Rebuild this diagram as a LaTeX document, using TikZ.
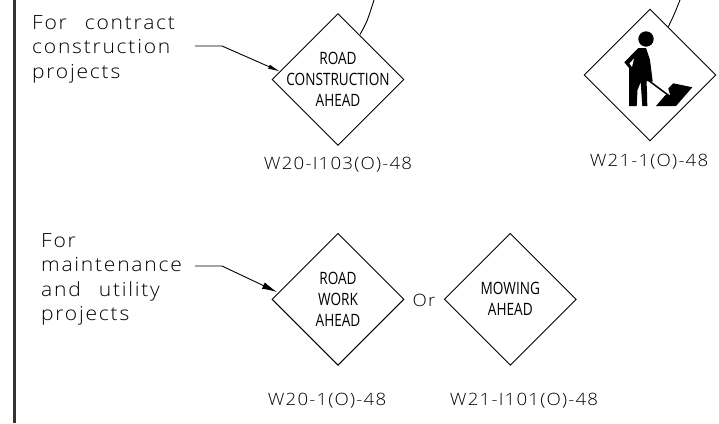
\documentclass[tikz,border=0pt]{standalone}
\usepackage{fontspec}
\setmainfont{Open Sans Light}
\newfontfamily\signfont[FakeStretch=0.8]{Open Sans}
\newfontfamily\notefont[FakeStretch=1.08,LetterSpace=9,WordSpace=2.5]{Open Sans Light}
\newfontfamily\codefont[FakeStretch=1.1,LetterSpace=7]{Open Sans Light}
\usetikzlibrary{shapes.geometric, positioning}
\usetikzlibrary{arrows.meta}
\tikzset{>={Latex[width=4.5pt,length=12pt]}}

\begin{document}
\begin{tikzpicture}[x=1pt, y=-1pt, sign/.style={diamond, draw=black, line width=0.9pt, aspect=1, minimum size=132pt, inner sep=0pt}, signtext/.style={align=center, inner sep=0pt, font=\signfont\fontsize{17}{21}\selectfont}, signcode/.style={font=\codefont\fontsize{17}{17}\selectfont, inner sep=0pt, anchor=base}, note/.style={font=\notefont\fontsize{19.5}{24.5}\selectfont, align=left, inner sep=0pt, anchor=north west}]
    \useasboundingbox (0,0) rectangle (719,423);

    %Nodes
    \node[sign](road_constr) at (338,79.5){};
    \node[sign](worker) at (650,75){};
    \node[sign](road_work) at (338,299.3){};
    \node[sign](mowing) at (510.3,299.3){};

    \node[signtext](road_constr_text) at (road_constr){ROAD\\CONSTRUCTION\\AHEAD};
    \node[signtext](road_work_text) at (road_work){ROAD\\WORK\\AHEAD};
    \node[signtext](mowing_text) at (mowing){MOWING\\AHEAD};

    \node[signcode](code_constr) at (338,169){W20-I103(O)-48};
    \node[signcode](code_worker) at (649,166.7){W21-1(O)-48};
    \node[signcode](code_work) at (327,405){W20-1(O)-48};
    \node[signcode](code_mowing) at (524,405){W21-I101(O)-48};

    \node[note](note_constr) at (32,15){For contract\\construction\\projects};
    \node[note](note_maint) at (41,233){For\\maintenance\\and utility\\projects};
    \node[signcode](or_text) at (424,306.7){Or};

    %Free ends
    \coordinate (top_constr) at (374,0);
    \coordinate (top_worker) at (680,0);
    \coordinate (edge_constr) at (360,34.5);
    \coordinate (edge_worker) at (668.3,26.7);
    \coordinate (start_constr) at (195,46);
    \coordinate (bend_constr) at (222,46);
    \coordinate (start_maint) at (195,266);
    \coordinate (bend_maint) at (222,266);
    \coordinate (border_top) at (14.5,0);
    \coordinate (border_bot) at (14.5,423);

    %Lines
    \draw[line width=2.4pt, black!80] (border_top) -- (border_bot);
    \draw[line width=0.9pt] (edge_constr) .. controls (367,22) .. (top_constr);
    \draw[line width=0.9pt] (edge_worker) .. controls (674,15) .. (top_worker);
    \draw[->, line width=0.9pt] (start_constr) -- (bend_constr) -- (280,71.5);
    \draw[-{Latex[width=7pt,length=15pt]}, line width=0.9pt] (start_maint) -- (bend_maint) -- (277,292);

    %Worker
    \fill (646,39) circle (7.7pt);
    \fill (638.3,48) -- (624.3,62.3) -- (629,68) -- (629,106) -- (636.7,106) -- (637.5,90) -- (640.7,82) -- (642.3,106) -- (647.3,106) -- (647,92) -- (646.5,81) -- (652.7,81.7) -- (650,60) -- (646,48) -- cycle;
    \fill[white] (634,58.5) -- (629.5,63.5) -- (632,67) -- cycle;
    \draw[line width=1.5pt] (643.3,76.5) -- (670,96.5);
    \fill (656,106) -- (676,106) -- (692.3,87.3) -- (673.3,83.3) -- (668.3,88.3) -- (670,95) -- (665.5,95) -- cycle;
\end{tikzpicture}
\end{document}
